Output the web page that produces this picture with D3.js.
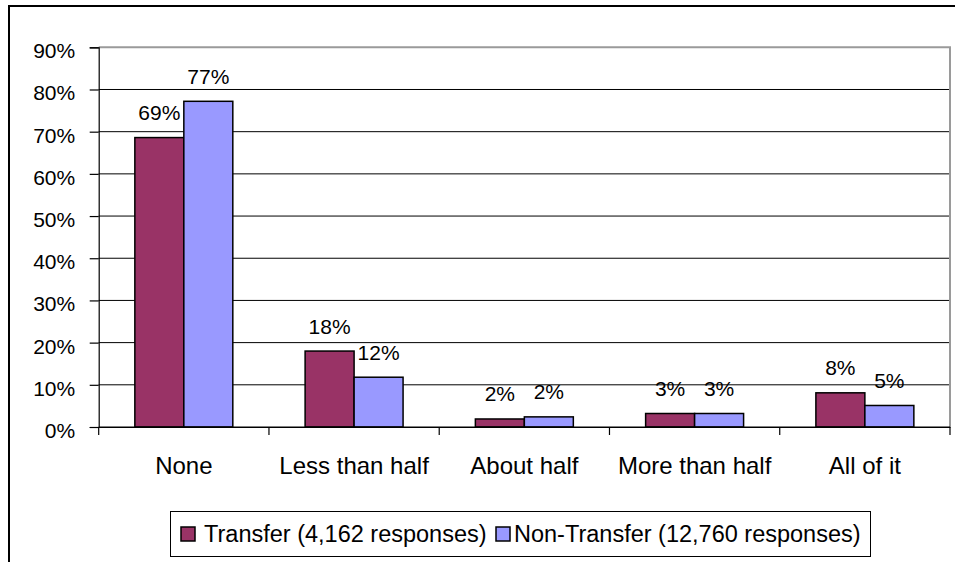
<!DOCTYPE html>
<html>
<head>
<meta charset="utf-8">
<script src="https://cdn.jsdelivr.net/npm/d3@7"></script>
<style>
  html, body { margin: 0; padding: 0; background: #fff; }
  svg { display: block; }
  svg text { font-family: 'Liberation Sans', Arial, sans-serif; fill: #000; }
</style>
</head>
<body>
<svg id="chart" width="955" height="562"></svg>
<script>
const categories = ["None", "Less than half", "About half", "More than half", "All of it"];
const seriesNames = ["Transfer (4,162 responses)", "Non-Transfer (12,760 responses)"];
const transferValues = [0.686, 0.180, 0.019, 0.032, 0.081];
const nonTransferValues = [0.772, 0.118, 0.024, 0.032, 0.051];
const transferLabels = ["69%", "18%", "2%", "3%", "8%"];
const nonTransferLabels = ["77%", "12%", "2%", "3%", "5%"];
const yTicks = [0, 0.1, 0.2, 0.3, 0.4, 0.5, 0.6, 0.7, 0.8, 0.9];
const colors = ["#993366", "#9999FF"];

const FONT = "'Liberation Sans', Arial, sans-serif";
const svg = d3.select("#chart");
const plotLeft = 98.7, plotRight = 950, plotTop = 47.3, plotBottom = 427;

// outer chart border
svg.append("rect").attr("x", 9).attr("y", 6).attr("width", 980).attr("height", 620)
  .attr("fill", "none").attr("stroke", "#000").attr("stroke-width", 2);

const x0 = d3.scaleBand().domain(categories).range([plotLeft, plotRight]).paddingInner(0).paddingOuter(0);
const x1 = d3.scaleBand().domain([0, 1]).range([0, x0.bandwidth()]).paddingInner(0).paddingOuter(0.738);
const y = d3.scaleLinear().domain([0, 0.9]).range([plotBottom, plotTop]);

// gridlines
svg.append("g").selectAll("line").data(yTicks.filter(t => t > 0 && t < 0.9)).join("line")
  .attr("x1", plotLeft).attr("x2", plotRight).attr("y1", d => y(d)).attr("y2", d => y(d))
  .attr("stroke", "#000").attr("stroke-width", 1);

// plot area border top/right (gray)
svg.append("path").attr("d", `M${plotLeft},${y(0.9)}H${plotRight}V${plotBottom}`)
  .attr("fill", "none").attr("stroke", "#9a9a9a").attr("stroke-width", 2);

// y axis
const yAxis = d3.axisLeft(y).tickValues(yTicks).tickFormat(d3.format(".0%")).tickSize(9).tickPadding(14.5);
const gy = svg.append("g").attr("transform", `translate(${plotLeft},0)`).call(yAxis)
  .attr("font-family", FONT).attr("font-size", 21);
gy.select(".domain").attr("stroke", "#000").attr("stroke-width", 1.2);
gy.selectAll(".tick line").attr("stroke", "#000").attr("stroke-width", 1.2);
gy.selectAll(".tick text").style("font-family", FONT).attr("font-size", 21).attr("fill", "#000").attr("dy", "0.5em");

// x axis
const xAxis = d3.axisBottom(x0).tickSize(0).tickPadding(30);
const gx = svg.append("g").attr("transform", `translate(0,${plotBottom})`).call(xAxis)
  .attr("font-family", FONT).attr("font-size", 24);
gx.select(".domain").attr("stroke", "#000").attr("stroke-width", 1.2);
gx.selectAll(".tick text").style("font-family", FONT).attr("font-size", 24).attr("fill", "#000")
  .attr("dy", "0.71em");
// boundary ticks
const boundaries = categories.map(c => x0(c)).concat([x0(categories[categories.length - 1]) + x0.bandwidth()]);
svg.append("g").selectAll("line").data(boundaries).join("line")
  .attr("x1", d => d).attr("x2", d => d).attr("y1", plotBottom).attr("y2", plotBottom + 8)
  .attr("stroke", "#000").attr("stroke-width", 1.2);

// bars
const seriesData = [transferValues, nonTransferValues];
const seriesLabels = [transferLabels, nonTransferLabels];
seriesData.forEach((vals, si) => {
  const g = svg.append("g");
  g.selectAll("rect").data(vals).join("rect")
    .attr("x", (d, i) => x0(categories[i]) + x1(si))
    .attr("y", d => y(d))
    .attr("width", x1.bandwidth())
    .attr("height", d => y(0) - y(d))
    .attr("fill", colors[si]).attr("stroke", "#000").attr("stroke-width", 1.5);
  g.selectAll("text").data(vals).join("text")
    .attr("x", (d, i) => x0(categories[i]) + x1(si) + x1.bandwidth() / 2)
    .attr("y", d => y(d) - 17.5)
    .attr("text-anchor", "middle").attr("font-size", 21).style("font-family", FONT)
    .text((d, i) => seriesLabels[si][i]);
});

// redraw axis line on top of bars
svg.append("line").attr("x1", plotLeft).attr("x2", plotRight).attr("y1", plotBottom).attr("y2", plotBottom)
  .attr("stroke", "#000").attr("stroke-width", 1.2);

// legend
const legend = svg.append("g");
legend.append("rect").attr("x", 170.5).attr("y", 511.5).attr("width", 700).attr("height", 45)
  .attr("fill", "#fff").attr("stroke", "#000").attr("stroke-width", 1);
const legendX = [181, 496];
const legendTextX = [204, 514];
seriesNames.forEach((name, i) => {
  legend.append("rect").attr("x", legendX[i]).attr("y", 527).attr("width", 14).attr("height", 14)
    .attr("fill", colors[i]).attr("stroke", "#000").attr("stroke-width", 1.5);
  legend.append("text").attr("x", legendTextX[i]).attr("y", 542)
    .attr("font-size", 23.5).style("font-family", FONT).text(name);
});
</script>
</body>
</html>
